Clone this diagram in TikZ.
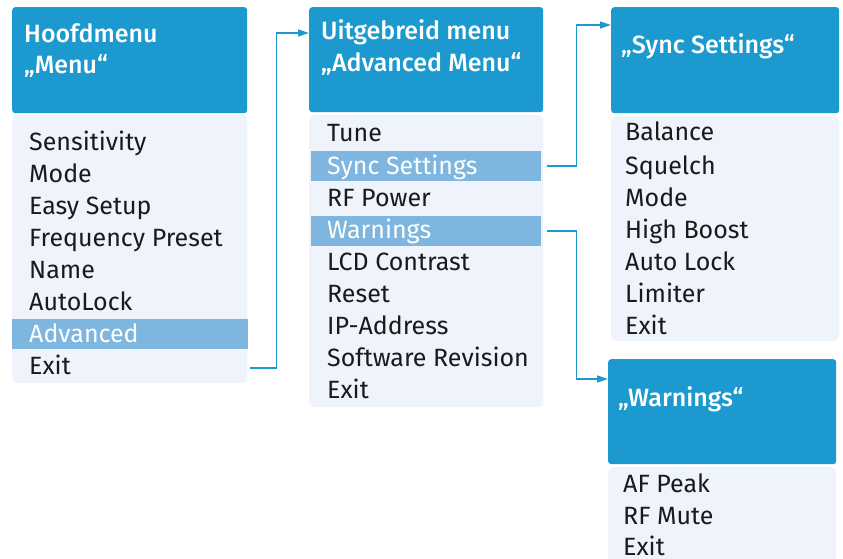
\documentclass[tikz,border=0pt]{standalone}
\usepackage{fontspec}
\setmainfont{Fira Sans}[BoldFont={Fira Sans Medium}]
\usetikzlibrary{arrows.meta}
\definecolor{hdrblue}{HTML}{1C9AD0}
\definecolor{hlblue}{HTML}{7EB6DF}
\definecolor{bodybg}{HTML}{EEF3FC}
\definecolor{txt}{HTML}{1A1A1A}
\tikzset{
  hdrbox/.style={fill=hdrblue, rounded corners=3pt},
  bodybox/.style={fill=bodybg, rounded corners=5pt},
  hlrow/.style={fill=hlblue, draw=none, inner sep=0pt, minimum height=30pt},
  rowtxt/.style={anchor=base west, inner sep=0pt, text=txt, font=\fontsize{25}{30}\selectfont},
  hltxt/.style={rowtxt, text=white},
  hdrtxt/.style={anchor=base west, inner sep=0pt, text=white, font=\fontsize{25}{30}\selectfont\bfseries},
  conn/.style={draw=hdrblue, line width=1.5pt, -{Triangle[length=11pt,width=7pt]}}
}
\begin{document}
\begin{tikzpicture}[x=1pt,y=-1pt]
\useasboundingbox (0,0) rectangle (843,559);
% ---------- Box 1
\node[hdrbox, anchor=north west, minimum width=235pt, minimum height=106pt, inner sep=0pt] (h1) at (12,7) {};
\node[bodybox, anchor=north west, minimum width=235pt, minimum height=268pt, inner sep=0pt] (b1) at (12,115) {};
\node[hlrow, anchor=north west, minimum width=236pt] (hl1) at (12,319) {};
\node[hdrtxt] (h1a) at (24,43) {Hoofdmenu};
\node[hdrtxt] (h1b) at (24,74) {„Menu“};
\node[rowtxt] (r1a) at (29,150) {Sensitivity};
\node[rowtxt] (r1b) at (29,182) {Mode};
\node[rowtxt] (r1c) at (29,214) {Easy Setup};
\node[rowtxt] (r1d) at (29,246) {Frequency Preset};
\node[rowtxt] (r1e) at (29,278) {Name};
\node[rowtxt] (r1f) at (29,310) {AutoLock};
\node[hltxt] (r1g) at (29,342) {Advanced};
\node[rowtxt] (r1h) at (29,374) {Exit};
% ---------- Box 2
\node[hdrbox, anchor=north west, minimum width=234pt, minimum height=105pt, inner sep=0pt] (h2) at (309,7) {};
\node[bodybox, anchor=north west, minimum width=234pt, minimum height=292pt, inner sep=0pt] (b2) at (309,115) {};
\node[hlrow, anchor=north west, minimum width=230pt] (hl2) at (311,151) {};
\node[hlrow, anchor=north west, minimum width=230pt] (hl3) at (311,216) {};
\node[hdrtxt] (h2a) at (321,40) {Uitgebreid menu};
\node[hdrtxt] (h2b) at (321,72) {„Advanced Menu“};
\node[rowtxt] (r2a) at (327,142) {Tune};
\node[hltxt] (r2b) at (327,174) {Sync Settings};
\node[rowtxt] (r2c) at (327,206) {RF Power};
\node[hltxt] (r2d) at (327,238) {Warnings};
\node[rowtxt] (r2e) at (327,270) {LCD Contrast};
\node[rowtxt] (r2f) at (327,302) {Reset};
\node[rowtxt] (r2g) at (327,334) {IP-Address};
\node[rowtxt] (r2h) at (327,366) {Software Revision};
\node[rowtxt] (r2i) at (327,398) {Exit};
% ---------- Box 3
\node[hdrbox, anchor=north west, minimum width=228pt, minimum height=106pt, inner sep=0pt] (h3) at (611,7) {};
\node[bodybox, anchor=north west, minimum width=228pt, minimum height=225pt, inner sep=0pt] (b3) at (611,116) {};
\node[hdrtxt] (h3a) at (621,54) {„Sync Settings“};
\node[rowtxt] (r3a) at (625,141) {Balance};
\node[rowtxt] (r3b) at (625,174) {Squelch};
\node[rowtxt] (r3c) at (625,206) {Mode};
\node[rowtxt] (r3d) at (625,238) {High Boost};
\node[rowtxt] (r3e) at (625,270) {Auto Lock};
\node[rowtxt] (r3f) at (625,302) {Limiter};
\node[rowtxt] (r3g) at (625,334) {Exit};
% ---------- Box 4
\node[hdrbox, anchor=north west, minimum width=228pt, minimum height=105pt, inner sep=0pt] (h4) at (608,359) {};
\node[bodybox, anchor=north west, minimum width=228pt, minimum height=110pt, inner sep=0pt] (b4) at (608,467) {};
\node[hdrtxt] (h4a) at (618,406) {„Warnings“};
\node[rowtxt] (r4a) at (623,492) {AF Peak};
\node[rowtxt] (r4b) at (623,524) {RF Mute};
\node[rowtxt] (r4c) at (623,555) {Exit};
% ---------- Connectors
\draw[conn] ([xshift=2pt,yshift=-34pt]hl1.east) -- ++(26,0) |- ([yshift=-26pt]h2.north west);
\draw[conn] ([xshift=6pt]hl2.east) -- ++(29,0) |- ([yshift=-18pt]h3.north west);
\draw[conn] ([xshift=6pt]hl3.east) -- ++(29,0) |- ([yshift=-20pt]h4.north west);
\end{tikzpicture}
\end{document}
